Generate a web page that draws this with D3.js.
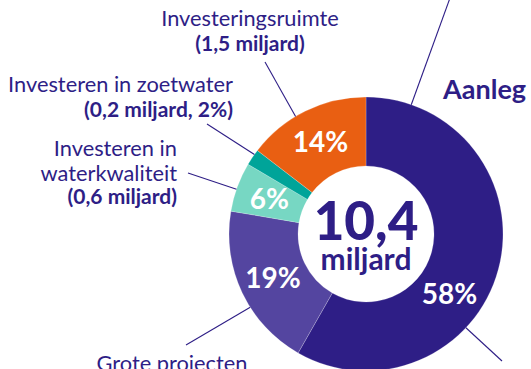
<!DOCTYPE html>
<html>
<head>
<meta charset="utf-8">
<script src="https://cdn.jsdelivr.net/npm/d3@7"></script>
<style>
  html, body { margin: 0; padding: 0; background: #fff; }
  svg { display: block; }
  text { font-family: Lato, "Open Sans", sans-serif; }
</style>
</head>
<body>
<svg id="chart" width="531" height="369"></svg>
<script>
// Budget split (miljard euro), clockwise from twelve o'clock
const categories = ["Aanleg", "Grote projecten", "Investeren in waterkwaliteit", "Investeren in zoetwater", "Investeringsruimte"];
const values = [6.0, 2.0, 0.6, 0.2, 1.5];
const percentLabels = ["58%", "19%", "6%", "", "14%"];
const totalLabel = "10,4";
const unitLabel = "miljard";

const colors = ["#2e1e86", "#5445a0", "#77d7c3", "#00a499", "#e95f12"];
const ink = "#2e1e86";

const svg = d3.select("#chart");
const cx = 366, cy = 234, rOuter = 137, rInner = 68;

const pie = d3.pie().sort(null).value(d => d)(values);
const arc = d3.arc().innerRadius(rInner).outerRadius(rOuter);

const g = svg.append("g").attr("transform", `translate(${cx},${cy})`);

g.selectAll("path.slice")
  .data(pie)
  .join("path")
  .attr("class", "slice")
  .attr("d", arc)
  .attr("fill", (d, i) => colors[i])
  .attr("stroke", "#ffffff")
  .attr("stroke-opacity", 0.35)
  .attr("stroke-width", 0.6);

// point on a ring at a fraction t of a slice's sweep
function polar(d, t, r) {
  const a = d.startAngle + t * (d.endAngle - d.startAngle);
  return [r * Math.sin(a), -r * Math.cos(a)];
}

// percentage labels inside the ring
g.selectAll("text.pct")
  .data(pie.filter((d, i) => percentLabels[i]))
  .join("text")
  .attr("class", "pct")
  .attr("x", d => polar(d, d.index === 0 ? 0.6 : 0.5, 103)[0])
  .attr("y", d => polar(d, d.index === 0 ? 0.6 : 0.5, 103)[1])
  .attr("dy", "0.36em")
  .attr("text-anchor", "middle")
  .attr("fill", "#fff")
  .attr("font-weight", 700)
  .attr("font-size", 28)
  .text(d => percentLabels[d.index]);

// total in the hole
g.append("text")
  .attr("x", 0).attr("y", 6)
  .attr("text-anchor", "middle")
  .attr("fill", ink)
  .attr("font-weight", 900)
  .attr("font-size", 53)
  .text(totalLabel);
g.append("text")
  .attr("x", 0).attr("y", 36)
  .attr("text-anchor", "middle")
  .attr("fill", ink)
  .attr("font-weight", 700)
  .attr("font-size", 30)
  .text(unitLabel);

// leader lines: slice index, fraction along slice, outer end in chart space
const leaders = [
  { i: 4, t: 0.41, to: [265, 62] },
  { i: 3, t: 0.7, to: [207, 124] },
  { i: 2, t: 0.45, to: [188, 173] },
  { i: 1, t: 0.40, to: [186, 345] },
  { i: 0, t: 0.092, to: [450, -2] },
  { i: 0, t: 0.635, to: [502, 361] }
];
svg.selectAll("line.leader")
  .data(leaders)
  .join("line")
  .attr("class", "leader")
  .attr("x1", d => cx + polar(pie[d.i], d.t, rOuter)[0])
  .attr("y1", d => cy + polar(pie[d.i], d.t, rOuter)[1])
  .attr("x2", d => d.to[0])
  .attr("y2", d => d.to[1])
  .attr("stroke", ink)
  .attr("stroke-width", 1.1);

// outside labels
function label(x, y, anchor, lines) {
  const t = svg.append("text")
    .attr("x", x).attr("y", y)
    .attr("text-anchor", anchor)
    .attr("fill", ink);
  lines.forEach((ln, k) => {
    t.append("tspan")
      .attr("x", x)
      .attr("dy", k === 0 ? 0 : ln.gap)
      .attr("font-weight", ln.bold ? 700 : 400)
      .attr("font-size", ln.size || 21.8)
      .text(ln.text);
  });
}
const fmt = v => d3.format(".1f")(v).replace(".", ",");

label(250, 26, "middle", [
  { text: categories[4] },
  { text: `(${fmt(values[4])} miljard)`, bold: true, size: 21, gap: 25 }
]);
label(233, 92, "end", [
  { text: categories[3] },
  { text: `(${fmt(values[3])} miljard, ${d3.format(".0%")(values[3] / d3.sum(values))})`, bold: true, size: 21, gap: 25 }
]);
label(177, 156, "end", [
  { text: "Investeren in" },
  { text: "waterkwaliteit", gap: 25 },
  { text: `(${fmt(values[2])} miljard)`, bold: true, size: 21, gap: 23 }
]);
label(172, 371, "middle", [
  { text: categories[1] }
]);
label(443, 99, "start", [
  { text: categories[0], bold: true, size: 27 }
]);
</script>
</body>
</html>
